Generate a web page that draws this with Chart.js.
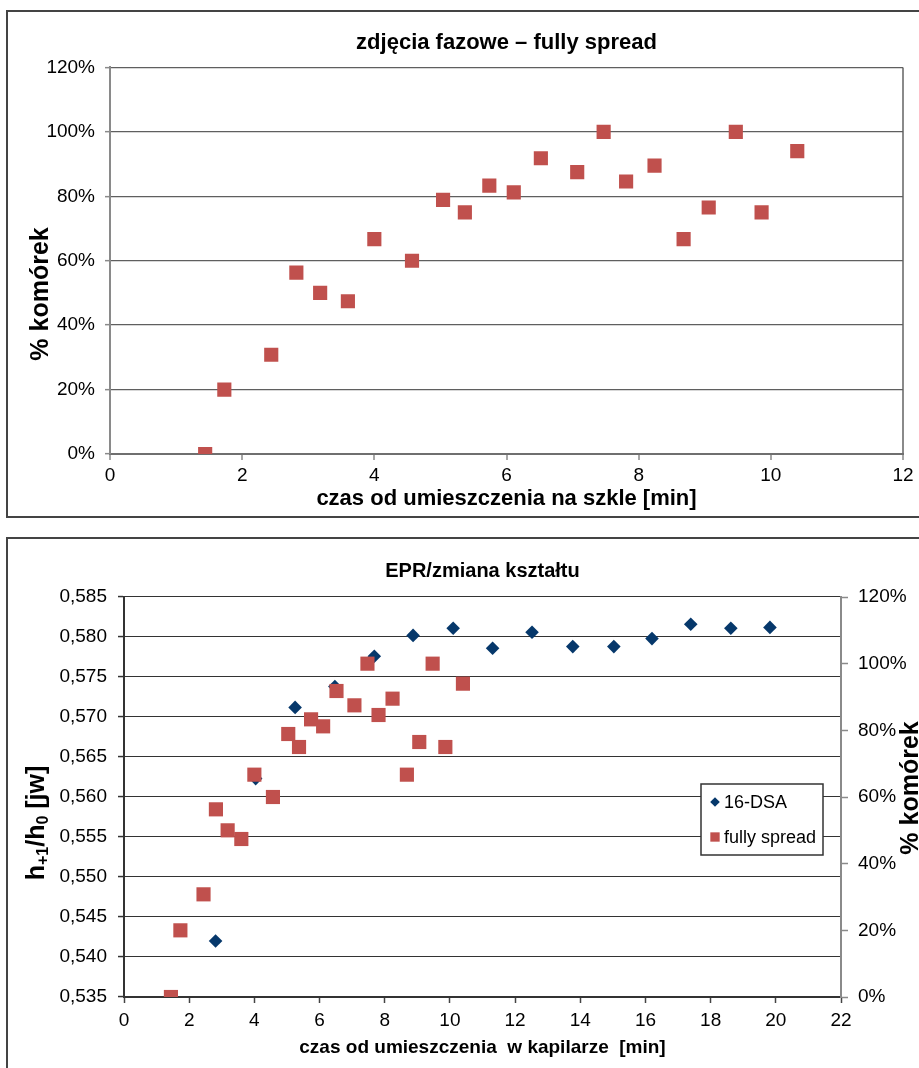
<!DOCTYPE html>
<html>
<head>
<meta charset="utf-8">
<script src="https://cdn.jsdelivr.net/npm/chart.js@4.4.1/dist/chart.umd.min.js"></script>
<style>
  html, body { margin: 0; padding: 0; background: #fff; overflow: hidden; }
  body { width: 919px; height: 1068px; position: relative; }
  .panel { position: absolute; border: 2px solid #444; box-sizing: border-box; }
  #panelTop { left: 6px; top: 10px; width: 940px; height: 508px; }
  #panelBottom { left: 6px; top: 537px; width: 940px; height: 560px; }
  canvas { position: absolute; left: 0; }
  #chartTop { top: 0; }
  #chartBottom { top: 530px; }
</style>
</head>
<body>
<div class="panel" id="panelTop"></div>
<div class="panel" id="panelBottom"></div>
<canvas id="chartTop" width="919" height="525"></canvas>
<canvas id="chartBottom" width="919" height="538"></canvas>
<script>
// fully spread cells, % of cells vs time on glass [min]
const spreadTime = [1.44, 1.73, 2.44, 2.82, 3.18, 3.60, 4.00, 4.57, 5.04, 5.37, 5.74, 6.11,
  6.52, 7.07, 7.47, 7.81, 8.24, 8.68, 9.06, 9.47, 9.86, 10.40];
const spreadPct = [0, 20, 30.8, 56.3, 50, 47.4, 66.7, 60, 78.9, 75, 83.3, 81.2,
  91.8, 87.5, 100, 84.6, 89.5, 66.7, 76.5, 100, 75, 94];

// 16-DSA EPR ratio h+1/h0 vs time in capillary [min]
const dsaTime = [2.81, 4.04, 5.25, 6.47, 7.68, 8.87, 10.10, 11.31, 12.52, 13.77, 15.03,
  16.20, 17.39, 18.62, 19.82];
const dsaRatio = [0.5420, 0.5623, 0.5712, 0.5738, 0.5776, 0.5802, 0.5811, 0.5786, 0.5806,
  0.5788, 0.5788, 0.5798, 0.5816, 0.5811, 0.5812];

const seriesNames = ["16-DSA", "fully spread"];

// tick labels
const timeTicksTop = [0, 2, 4, 6, 8, 10, 12];
const timeTicksBottom = [0, 2, 4, 6, 8, 10, 12, 14, 16, 18, 20, 22];
const pctTicks = [0, 20, 40, 60, 80, 100, 120];
const ratioTicks = [0.535, 0.540, 0.545, 0.550, 0.555, 0.560, 0.565, 0.570, 0.575, 0.580, 0.585];

const FONT = "'Liberation Sans', Arial, sans-serif";
Chart.defaults.font.family = FONT;
Chart.defaults.color = "#000";

const RED = "#C0504D";
const NAVY = "#06386b";
const AXIS = "#8a8a8a";

function points(xs, ys) {
  return xs.map((x, i) => ({ x: x, y: ys[i] }));
}

function fixedTicks(list) {
  return (scale) => { scale.ticks = list.map((v) => ({ value: v })); };
}

// rotated axis titles, drawn by hand so they can sit where Excel put them
const rotatedTitles = {
  id: "rotatedTitles",
  afterDraw(chart, args, opts) {
    const ctx = chart.ctx;
    (opts.items || []).forEach((it) => {
      ctx.save();
      ctx.translate(it.x, it.y);
      ctx.rotate(-Math.PI / 2);
      ctx.fillStyle = "#000";
      ctx.textBaseline = "middle";
      let total = 0;
      it.parts.forEach((p) => {
        ctx.font = "bold " + (p.sub ? it.subSize : it.size) + "px " + FONT;
        total += ctx.measureText(p.text).width;
      });
      let cx = -total / 2;
      it.parts.forEach((p) => {
        ctx.font = "bold " + (p.sub ? it.subSize : it.size) + "px " + FONT;
        ctx.fillText(p.text, cx, p.sub ? it.subShift : 0);
        cx += ctx.measureText(p.text).width;
      });
      ctx.restore();
    });
  },
};

// boxed legend inside the plot area
const boxLegend = {
  id: "boxLegend",
  afterDatasetsDraw(chart, args, o) {
    if (!o.show) return;
    const ctx = chart.ctx;
    ctx.save();
    ctx.fillStyle = "#fff";
    ctx.fillRect(o.x, o.y, o.w, o.h);
    ctx.strokeStyle = "#333";
    ctx.lineWidth = 1.5;
    ctx.strokeRect(o.x, o.y, o.w, o.h);
    chart.data.datasets.forEach((ds, i) => {
      const cy = o.y + o.rows[i];
      ctx.fillStyle = ds.backgroundColor;
      Chart.helpers.drawPoint(ctx, { pointStyle: ds.pointStyle, radius: o.radius[i], borderWidth: 0 }, o.x + 14, cy);
      ctx.fillStyle = "#000";
      ctx.font = "18px " + FONT;
      ctx.textBaseline = "middle";
      ctx.fillText(ds.label, o.x + 23, cy + 1);
    });
    ctx.restore();
  },
};

Chart.register(rotatedTitles, boxLegend);

const baseOptions = {
  responsive: false,
  animation: false,
  devicePixelRatio: 1,
  events: [],
};

// ---- top chart: phase contrast images ----
new Chart(document.getElementById("chartTop"), {
  type: "scatter",
  data: {
    datasets: [
      {
        label: seriesNames[1],
        data: points(spreadTime, spreadPct),
        backgroundColor: RED,
        borderColor: RED,
        pointStyle: "rect",
        pointRadius: 10,
        pointBorderWidth: 0,
      },
    ],
  },
  options: {
    ...baseOptions,
    layout: { padding: { top: 30, right: 16, bottom: 11, left: 0 } },
    scales: {
      x: {
        type: "linear",
        min: 0,
        max: 12,
        afterBuildTicks: fixedTicks(timeTicksTop),
        afterFit: (s) => { s.height = 60; },
        grid: {
          color: (c) => (c.tick && c.tick.value === 12 ? AXIS : "rgba(0,0,0,0)"),
          lineWidth: 2,
          tickLength: 6,
          tickColor: AXIS,
          tickWidth: 1.5,
        },
        border: { color: "#6f6f6f", width: 2 },
        ticks: { font: { size: 19 }, padding: 4, maxRotation: 0 },
        title: {
          display: true,
          text: "czas od umieszczenia na szkle [min]",
          font: { size: 22, weight: "bold" },
          padding: { top: 0, bottom: 2 },
        },
      },
      y: {
        min: 0,
        max: 120,
        afterBuildTicks: fixedTicks(pctTicks),
        afterFit: (s) => { s.width = 110; },
        grid: { color: "#5f5f5f", lineWidth: 1.3, tickLength: 5, tickColor: AXIS, tickWidth: 1.5 },
        border: { color: AXIS, width: 2 },
        ticks: { font: { size: 19 }, padding: 10, callback: (v) => v + "%" },
        title: { display: false, text: "% komórek" },
      },
    },
    plugins: {
      legend: { display: false },
      tooltip: { enabled: false },
      title: {
        display: true,
        fullSize: false,
        text: "zdjęcia fazowe – fully spread",
        font: { size: 22, weight: "bold" },
        color: "#000",
        padding: { top: 0, bottom: 11 },
      },
      rotatedTitles: {
        items: [{ x: 41, y: 294, size: 25, subSize: 16, subShift: 7, parts: [{ text: "% komórek" }] }],
      },
      boxLegend: { show: false },
    },
  },
});

// ---- bottom chart: EPR vs shape change ----
new Chart(document.getElementById("chartBottom"), {
  type: "scatter",
  data: {
    datasets: [
      {
        label: seriesNames[0],
        data: points(dsaTime, dsaRatio),
        yAxisID: "y",
        backgroundColor: NAVY,
        borderColor: NAVY,
        pointStyle: "rectRot",
        pointRadius: 6.8,
        pointBorderWidth: 0,
        order: 1,
      },
      {
        label: seriesNames[1],
        data: points(spreadTime, spreadPct),
        yAxisID: "y2",
        backgroundColor: RED,
        borderColor: RED,
        pointStyle: "rect",
        pointRadius: 10,
        pointBorderWidth: 0,
        order: 0,
      },
    ],
  },
  options: {
    ...baseOptions,
    layout: { padding: { top: 29, right: 0, bottom: 6, left: 0 } },
    scales: {
      x: {
        type: "linear",
        min: 0,
        max: 22,
        afterBuildTicks: fixedTicks(timeTicksBottom),
        afterFit: (s) => { s.height = 65; },
        grid: { drawOnChartArea: false, tickLength: 6, tickColor: "#444", tickWidth: 1.5 },
        border: { color: "#333", width: 2 },
        ticks: { font: { size: 19 }, padding: 6, maxRotation: 0 },
        title: {
          display: true,
          text: "czas od umieszczenia  w kapilarze  [min]",
          font: { size: 19, weight: "bold" },
          padding: { top: 0, bottom: 3 },
        },
      },
      y: {
        position: "left",
        min: 0.535,
        max: 0.585,
        afterBuildTicks: fixedTicks(ratioTicks),
        afterFit: (s) => { s.width = 124; },
        grid: { color: "#333", lineWidth: 1.1, tickLength: 6, tickColor: "#333", tickWidth: 1.5 },
        border: { color: "#333", width: 2 },
        ticks: { font: { size: 19 }, padding: 11, callback: (v) => v.toFixed(3).replace(".", ",") },
        title: { display: false, text: "h+1/h0 [jw]" },
      },
      y2: {
        position: "right",
        min: 0,
        max: 120,
        afterBuildTicks: fixedTicks(pctTicks),
        afterFit: (s) => { s.width = 78; },
        grid: { drawOnChartArea: false, tickLength: 7, tickColor: AXIS, tickWidth: 1.5 },
        border: { color: AXIS, width: 2 },
        ticks: { font: { size: 19 }, padding: 10, callback: (v) => v + "%" },
        title: { display: false, text: "% komórek" },
      },
    },
    plugins: {
      legend: { display: false },
      tooltip: { enabled: false },
      title: {
        display: true,
        fullSize: false,
        text: "EPR/zmiana kształtu",
        font: { size: 20, weight: "bold" },
        color: "#000",
        padding: { top: 0, bottom: 14 },
      },
      rotatedTitles: {
        items: [
          {
            x: 37, y: 293, size: 25, subSize: 16, subShift: 7,
            parts: [{ text: "h" }, { text: "+1", sub: true }, { text: "/h" }, { text: "0", sub: true }, { text: " [jw]" }],
          },
          { x: 911, y: 258, size: 25, subSize: 16, subShift: 7, parts: [{ text: "% komórek" }] },
        ],
      },
      boxLegend: { show: true, x: 701, y: 254, w: 122, h: 71, rows: [18, 53], radius: [4.8, 6.6] },
    },
  },
});
</script>
</body>
</html>
